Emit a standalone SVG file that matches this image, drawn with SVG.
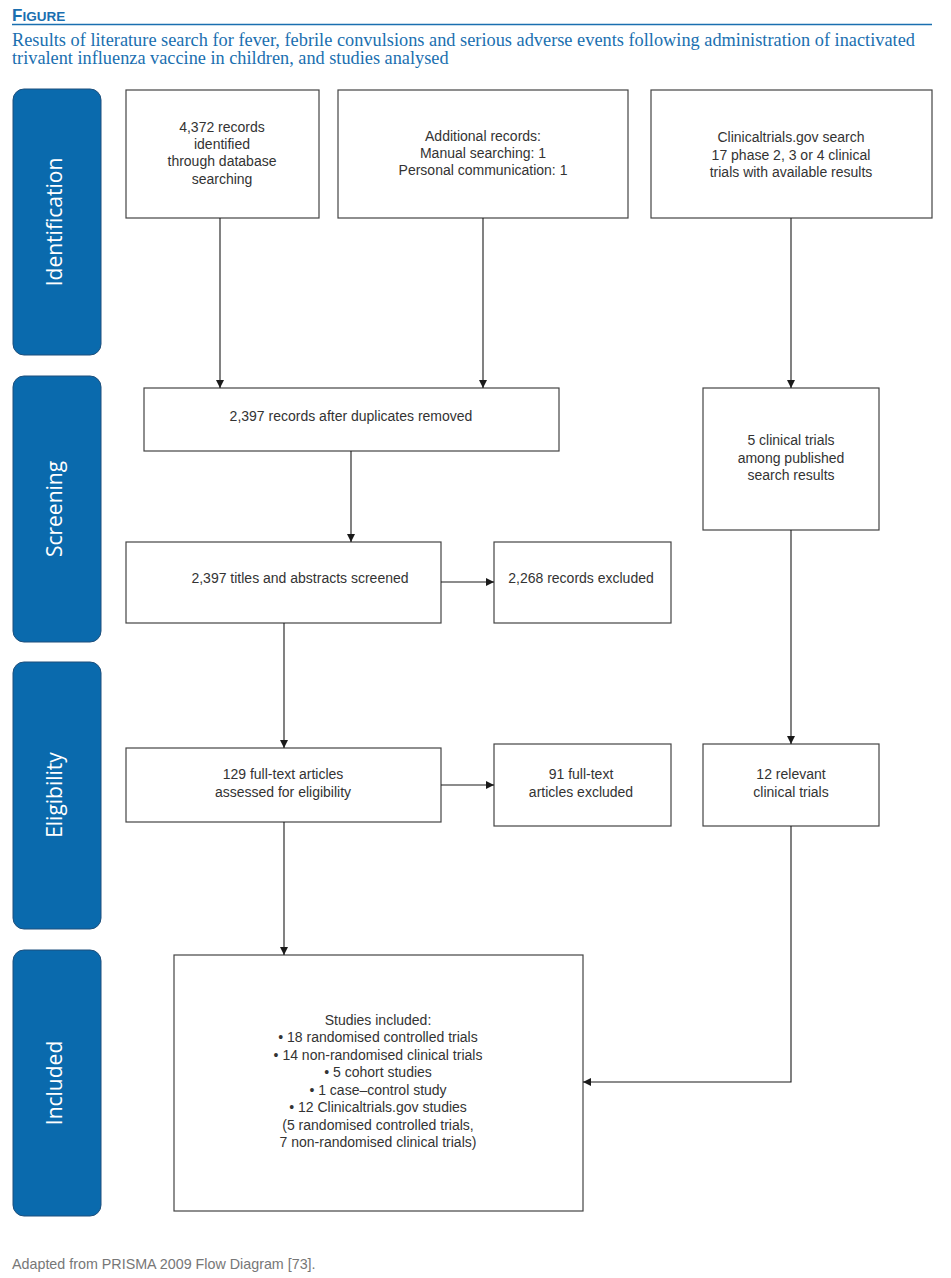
<svg xmlns="http://www.w3.org/2000/svg" width="951" height="1278" viewBox="0 0 951 1278">
<defs>
<marker id="ah" viewBox="0 0 10 10" refX="10" refY="5" markerWidth="8" markerHeight="8" markerUnits="userSpaceOnUse" orient="auto">
<path d="M0,0 L10,5 L0,10 z" fill="#1a1a1a"/>
</marker>
<style>
.box{fill:#fff;stroke:#444;stroke-width:1.2}
.t{font-family:"Liberation Sans",Arial,sans-serif;font-size:14px;fill:#333;text-anchor:middle}
.tab{fill:#0a6aad;stroke:#1d4f7c;stroke-width:1}
.tl{font-family:"Open Sans","Noto Sans",sans-serif;font-size:21px;fill:#fff;text-anchor:middle}
.c{fill:none;stroke:#1a1a1a;stroke-width:1.1;marker-end:url(#ah)}
.hd{font-family:"Liberation Sans",Arial,sans-serif;font-weight:bold;fill:#1a6fb0}
.sub{font-family:"Liberation Serif","Times New Roman",serif;font-size:18.3px;fill:#1a6fb0}
</style>
</defs>
<rect width="951" height="1278" fill="#fff"/>
<g id="header">
<text x="12" y="21" class="hd"><tspan font-size="17">F</tspan><tspan font-size="13.5">IGURE</tspan></text>
<line x1="12" y1="24.5" x2="932" y2="24.5" stroke="#1a6fb0" stroke-width="1.5"/>
<text x="12" y="46" class="sub" textLength="903" lengthAdjust="spacingAndGlyphs">Results of literature search for fever, febrile convulsions and serious adverse events following administration of inactivated</text>
<text x="12" y="64" class="sub">trivalent influenza vaccine in children, and studies analysed</text>
</g>
<g id="tab-identification"><rect class="tab" x="13" y="89" width="88" height="266" rx="11"/><text class="tl" transform="translate(62,222) rotate(-90)">Identification</text></g>
<g id="tab-screening"><rect class="tab" x="13" y="376" width="88" height="266" rx="11"/><text class="tl" transform="translate(62,509) rotate(-90)">Screening</text></g>
<g id="tab-eligibility"><rect class="tab" x="13" y="662" width="88" height="267" rx="11"/><text class="tl" transform="translate(62,795) rotate(-90)">Eligibility</text></g>
<g id="tab-included"><rect class="tab" x="13" y="950" width="88" height="266" rx="11"/><text class="tl" transform="translate(62,1083) rotate(-90)">Included</text></g>
<g id="n-database"><rect class="box" x="126" y="90" width="193" height="128"/>
<text class="t" x="222" y="132">4,372 records</text><text class="t" x="222" y="149">identified</text><text class="t" x="222" y="166">through database</text><text class="t" x="222" y="184">searching</text></g>
<g id="n-additional"><rect class="box" x="338" y="90" width="290" height="128"/>
<text class="t" x="483" y="141">Additional records:</text><text class="t" x="483" y="158">Manual searching: 1</text><text class="t" x="483" y="175">Personal communication: 1</text></g>
<g id="n-ctgov"><rect class="box" x="651" y="90" width="281" height="128"/>
<text class="t" x="791" y="142">Clinicaltrials.gov search</text><text class="t" x="791" y="160">17 phase 2, 3 or 4 clinical</text><text class="t" x="791" y="177">trials with available results</text></g>
<g id="n-dup"><rect class="box" x="144" y="388" width="415" height="63"/>
<text class="t" x="351" y="421">2,397 records after duplicates removed</text></g>
<g id="n-5trials"><rect class="box" x="703" y="388" width="176" height="142"/>
<text class="t" x="791" y="445">5 clinical trials</text><text class="t" x="791" y="463">among published</text><text class="t" x="791" y="480">search results</text></g>
<g id="n-screened"><rect class="box" x="126" y="542" width="315" height="81"/>
<text class="t" x="300" y="583">2,397 titles and abstracts screened</text></g>
<g id="n-excl1"><rect class="box" x="494" y="542" width="177" height="81"/>
<text class="t" x="581" y="583">2,268 records excluded</text></g>
<g id="n-fulltext"><rect class="box" x="126" y="748" width="315" height="74"/>
<text class="t" x="283" y="779">129 full-text articles</text><text class="t" x="283" y="797">assessed for eligibility</text></g>
<g id="n-excl2"><rect class="box" x="494" y="744" width="177" height="82"/>
<text class="t" x="581" y="779">91 full-text</text><text class="t" x="581" y="797">articles excluded</text></g>
<g id="n-12trials"><rect class="box" x="703" y="744" width="176" height="82"/>
<text class="t" x="791" y="779">12 relevant</text><text class="t" x="791" y="797">clinical trials</text></g>
<g id="n-included"><rect class="box" x="174" y="955" width="409" height="256"/>
<text class="t" x="378" y="1025">Studies included:</text>
<text class="t" x="378" y="1042">• 18 randomised controlled trials</text>
<text class="t" x="378" y="1060">• 14 non-randomised clinical trials</text>
<text class="t" x="378" y="1077">• 5 cohort studies</text>
<text class="t" x="378" y="1095">• 1 case–control study</text>
<text class="t" x="378" y="1112">• 12 Clinicaltrials.gov studies</text>
<text class="t" x="378" y="1130">(5 randomised controlled trials,</text>
<text class="t" x="378" y="1147">7 non-randomised clinical trials)</text></g>
<g id="connectors">
<path class="c" d="M220,218 V388"/>
<path class="c" d="M483,218 V388"/>
<path class="c" d="M791,218 V388"/>
<path class="c" d="M351,451 V542"/>
<path class="c" d="M441,582 H494"/>
<path class="c" d="M284,623 V748"/>
<path class="c" d="M791,530 V744"/>
<path class="c" d="M441,785 H494"/>
<path class="c" d="M284,822 V955"/>
<path class="c" d="M791,826 V1082 H583"/>
</g>
<g id="footer"><text x="12" y="1269" font-family="'Liberation Sans',Arial,sans-serif" font-size="14.3" fill="#777">Adapted from PRISMA 2009 Flow Diagram [73].</text></g>
</svg>
